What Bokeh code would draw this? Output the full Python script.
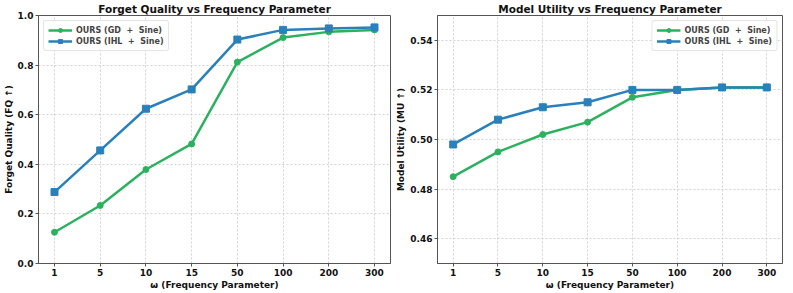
from bokeh.plotting import figure
from bokeh.layouts import row
from bokeh.models import Range1d, FixedTicker, Legend, LegendItem
from bokeh.embed import file_html
from bokeh.resources import INLINE

omega = ["1", "5", "10", "15", "50", "100", "200", "300"]
fq_gd = [0.126, 0.234, 0.379, 0.482, 0.812, 0.911, 0.934, 0.942]
fq_ihl = [0.288, 0.456, 0.624, 0.702, 0.903, 0.942, 0.948, 0.952]
mu_gd = [0.485, 0.495, 0.502, 0.507, 0.517, 0.520, 0.521, 0.521]
mu_ihl = [0.498, 0.508, 0.513, 0.515, 0.520, 0.520, 0.521, 0.521]

GREEN = "#2bb15f"
BLUE = "#2a80b9"
FONT = "DejaVu Sans"
xs = list(range(len(omega)))


def make(title, ylabel, y0, y1, yticks, yfmt, gd, ihl, loc, width, bl, br):
    p = figure(width=width, height=292, output_backend="svg", toolbar_location=None,
               x_range=Range1d(-0.35, len(omega) - 1 + 0.35), y_range=Range1d(y0, y1),
               min_border_left=bl, min_border_right=br, min_border_top=0, min_border_bottom=1)
    p.title.text = title
    p.title.text_font = FONT
    p.title.text_font_size = "10.5px"
    p.title.text_font_style = "bold"
    p.title.align = "center"
    p.title.text_color = "#111111"
    p.title.standoff = 1
    p.outline_line_color = "#555555"
    p.outline_line_width = 1
    p.background_fill_color = "white"
    p.border_fill_color = "white"

    p.xaxis.ticker = FixedTicker(ticks=xs)
    p.xaxis.major_label_overrides = {i: s for i, s in enumerate(omega)}
    p.yaxis.ticker = FixedTicker(ticks=yticks)
    p.yaxis.major_label_overrides = {t: yfmt.format(t) for t in yticks}
    p.xaxis.axis_label = "\u03c9 (Frequency Parameter)"
    p.yaxis.axis_label = ylabel
    for ax in (p.xaxis[0], p.yaxis[0]):
        ax.axis_label_text_font = FONT
        ax.axis_label_text_font_size = "9px"
        ax.axis_label_text_font_style = "bold"
        ax.axis_label_text_color = "#111111"
        ax.major_label_text_font = FONT
        ax.major_label_text_font_size = "9px"
        ax.major_label_text_font_style = "bold"
        ax.major_label_text_color = "#111111"
        ax.axis_line_color = "#555555"
        ax.major_tick_line_color = "#555555"
        ax.major_tick_out = 3
        ax.major_tick_in = 0
        ax.minor_tick_line_color = None
        ax.major_label_standoff = 2
        ax.axis_label_standoff = 1
    p.grid.grid_line_color = "#c8c8c8"
    p.grid.grid_line_dash = "2 2"
    p.grid.grid_line_width = 0.8

    l1 = p.line(xs, gd, line_color=GREEN, line_width=2.5)
    s1 = p.scatter(xs, gd, marker="circle", size=6, fill_color=GREEN, line_color=GREEN)
    l2 = p.line(xs, ihl, line_color=BLUE, line_width=2.5)
    s2 = p.scatter(xs, ihl, marker="square", size=7, fill_color=BLUE, line_color=BLUE)

    legend = Legend(items=[
        LegendItem(label="OURS (GD  +  Sine)", renderers=[l1, s1]),
        LegendItem(label="OURS (IHL  +  Sine)", renderers=[l2, s2]),
    ], location=loc)
    legend.label_text_font = FONT
    legend.label_text_font_size = "8px"
    legend.label_text_font_style = "bold"
    legend.label_height = 10
    legend.glyph_height = 10
    legend.glyph_width = 24
    legend.spacing = 1
    legend.padding = 4
    legend.margin = 5
    legend.label_standoff = 4
    legend.border_line_color = "#cccccc"
    legend.border_radius = 3
    legend.background_fill_alpha = 0.9
    p.add_layout(legend)
    return p


p1 = make("Forget Quality vs Frequency Parameter", "Forget Quality (FQ \u2191)",
          0.0, 1.0, [0.0, 0.2, 0.4, 0.6, 0.8, 1.0], "{:.1f}", fq_gd, fq_ihl,
          "top_left", 393, 0, 3)
p2 = make("Model Utility vs Frequency Parameter", "Model Utility (MU \u2191)",
          0.45, 0.55, [0.46, 0.48, 0.50, 0.52, 0.54], "{:.2f}", mu_gd, mu_ihl,
          "top_right", 399, 0, 10)

p = row(p1, p2)
open("out.html", "w").write(file_html(p, INLINE))
